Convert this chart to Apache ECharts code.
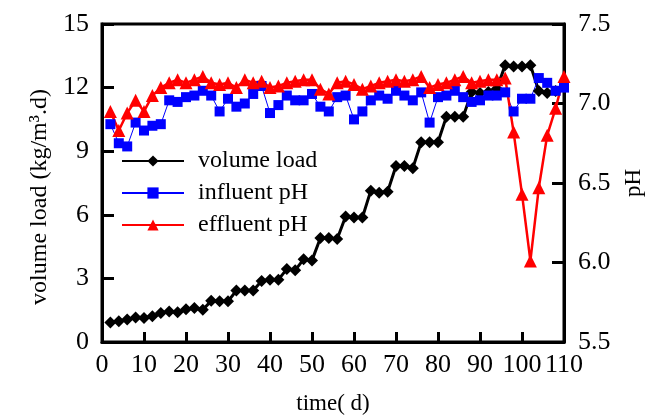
<!DOCTYPE html>
<html>
<head>
<meta charset="utf-8">
<script src="https://cdn.jsdelivr.net/npm/echarts@6/dist/echarts.min.js"></script>
<style>
html,body{margin:0;padding:0;background:#fff;}
#c{width:653px;height:420px;}
</style>
</head>
<body>
<div id="c"></div>
<script>
const days = [2,4,6,8,10,12,14,16,18,20,22,24,26,28,30,32,34,36,38,40,42,44,46,48,50,52,54,56,58,60,62,64,66,68,70,72,74,76,78,80,82,84,86,88,90,92,94,96,98,100,102,104,106,108,110];
const volumeLoad = [0.92,0.98,1.06,1.16,1.13,1.21,1.37,1.44,1.40,1.54,1.60,1.52,1.94,1.92,1.92,2.43,2.43,2.43,2.88,2.94,2.94,3.44,3.39,3.90,3.85,4.91,4.91,4.86,5.92,5.87,5.87,7.14,7.04,7.09,8.30,8.30,8.20,9.42,9.42,9.42,10.63,10.63,10.63,11.79,11.74,11.79,11.95,13.06,13.00,13.00,13.06,11.84,11.74,11.84];
const influentPH = [6.87,6.75,6.73,6.88,6.83,6.86,6.87,7.02,7.01,7.04,7.05,7.08,7.05,6.95,7.03,6.98,7.00,7.06,7.11,6.94,6.99,7.05,7.02,7.02,7.06,6.98,6.95,7.04,7.05,6.90,6.95,7.02,7.05,7.03,7.08,7.05,7.02,7.07,6.88,7.04,7.05,7.08,7.04,7.01,7.02,7.05,7.05,7.07,6.95,7.03,7.03,7.16,7.13,7.08,7.10];
const effluentPH = [6.95,6.83,6.94,7.02,6.95,7.05,7.10,7.13,7.15,7.13,7.15,7.17,7.13,7.12,7.13,7.10,7.15,7.13,7.14,7.10,7.11,7.13,7.14,7.15,7.15,7.09,7.06,7.13,7.14,7.12,7.09,7.11,7.13,7.14,7.15,7.14,7.15,7.17,7.10,7.12,7.13,7.15,7.17,7.13,7.14,7.15,7.15,7.16,6.82,6.43,6.01,6.47,6.80,6.97,7.17];
const seriesNames = ['volume load','influent pH','effluent pH'];
const xName = 'time( d)';
const yLeftName = 'volume load (kg/m\u00B3.d)';
const yRightName = 'pH';

const pair = (vals) => vals.map((v,i) => [days[i], v]);
const FONT = 'Liberation Serif';

const chart = echarts.init(document.getElementById('c'), null, {renderer:'canvas'});
chart.setOption({
  animation: false,
  backgroundColor: '#fff',
  grid: {left: 102, right: 85, top: 24, bottom: 70, show: true, borderColor: '#000', borderWidth: 3},
  legend: {
    orient: 'vertical', left: 116, top: 144,
    itemWidth: 62, itemHeight: 14, itemGap: 8,
    data: seriesNames,
    textStyle: {fontFamily: FONT, fontSize: 24, color: '#000', lineHeight: 22, padding: [0,0,0,9]}
  },
  xAxis: {
    type: 'value', min: 0, max: 110, interval: 10,
    name: xName, nameLocation: 'middle', nameGap: 50,
    nameTextStyle: {fontFamily: FONT, fontSize: 23, color: '#000'},
    axisLine: {show: true, lineStyle: {color: '#000', width: 3}},
    axisTick: {show: true, inside: true, length: 10, lineStyle: {color: '#000', width: 3}},
    axisLabel: {fontFamily: FONT, fontSize: 26, color: '#000', margin: 10},
    splitLine: {show: false}
  },
  yAxis: [{
    type: 'value', min: 0, max: 15, interval: 3, position: 'left',
    name: yLeftName, nameLocation: 'middle', nameGap: 45,
    nameTextStyle: {fontFamily: FONT, fontSize: 24, color: '#000', padding: [0,28,0,0]},
    axisLine: {show: true, lineStyle: {color: '#000', width: 3}},
    axisTick: {show: true, inside: true, length: 12, lineStyle: {color: '#000', width: 3}},
    axisLabel: {fontFamily: FONT, fontSize: 26, color: '#000', margin: 13},
    splitLine: {show: false}
  },{
    type: 'value', min: 5.5, max: 7.5, interval: 0.5, position: 'right',
    name: yRightName, nameLocation: 'middle', nameGap: 58,
    nameTextStyle: {fontFamily: FONT, fontSize: 23, color: '#000'},
    axisLine: {show: true, lineStyle: {color: '#000', width: 3}},
    axisTick: {show: true, inside: true, length: 12, lineStyle: {color: '#000', width: 3}},
    axisLabel: {fontFamily: FONT, fontSize: 26, color: '#000', margin: 14, formatter: v => v.toFixed(1)},
    splitLine: {show: false}
  }],
  series: [{
    name: seriesNames[0], type: 'line', yAxisIndex: 0,
    data: pair(volumeLoad),
    symbol: 'diamond', symbolSize: 12,
    itemStyle: {color: '#000'}, lineStyle: {color: '#000', width: 3}
  },{
    name: seriesNames[1], type: 'line', yAxisIndex: 1,
    data: pair(influentPH),
    symbol: 'rect', symbolSize: 10,
    itemStyle: {color: '#0000ff'}, lineStyle: {color: '#0000ff', width: 1}
  },{
    name: seriesNames[2], type: 'line', yAxisIndex: 1,
    data: pair(effluentPH),
    symbol: 'triangle', symbolSize: 13,
    itemStyle: {color: '#ff0000'}, lineStyle: {color: '#ff0000', width: 2.5}
  }]
});
</script>
</body>
</html>
